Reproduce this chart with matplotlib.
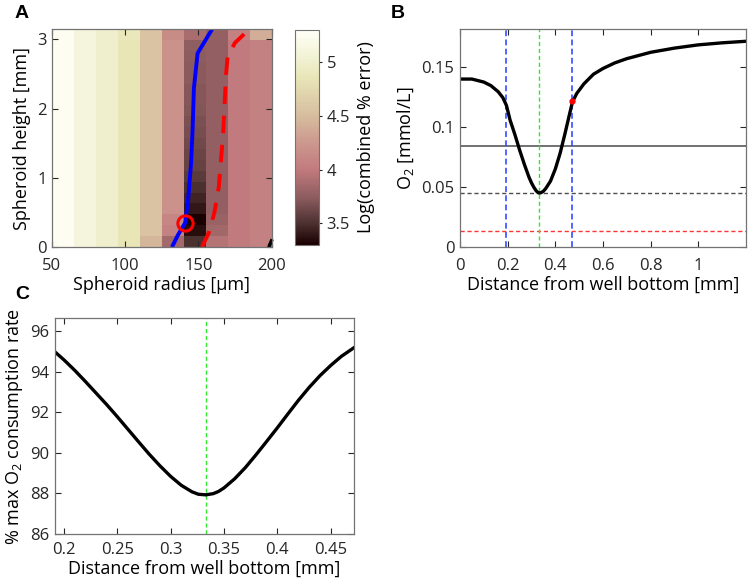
import numpy as np
import matplotlib
matplotlib.use("Agg")
import matplotlib.pyplot as plt
from matplotlib.colors import LinearSegmentedColormap

plt.rcParams['font.family'] = ['Open Sans', 'DejaVu Sans']
plt.rcParams['mathtext.default'] = 'regular'
plt.rcParams['font.size'] = 12

# ---------------- Panel A data ----------------
radius_edges = [50, 65, 80, 95, 110, 125, 140, 155, 170, 185, 200]
height_edges = list(np.round(np.linspace(0, 3.15, 21), 4))
# log(combined % error), rows bottom->top (20 rows), cols left->right (10 cols)
col_vals = [
    [5.25] * 20,
    [5.12] * 20,
    [5.00] * 20,
    [4.85] * 19 + [4.88],
    [4.45] + [4.55] * 19,
    [3.85, 4.05, 4.10] + [4.20] * 16 + [4.15],
    [3.50, 3.36, 3.30, 3.40, 3.45, 3.50, 3.55, 3.60, 3.62, 3.64,
     3.66, 3.68, 3.70, 3.72, 3.72, 3.73, 3.73, 3.74, 3.76, 3.88],
    [3.94, 3.84, 3.80] + [3.77] * 16 + [3.78],
    [4.00] * 19 + [4.05],
    [4.05] * 19 + [4.40],
]
blue_r = [132, 136, 141, 143, 145, 146, 147, 149.5, 159.5]
blue_h = [0, 0.17, 0.35, 0.68, 1.2, 1.65, 2.3, 2.8, 3.15]
red_r = [152.5, 157, 161, 164, 167, 168, 169, 170, 175, 182]
red_h = [0, 0.2, 0.5, 0.87, 1.65, 2.1, 2.5, 2.75, 2.95, 3.09]
opt_r, opt_h = [141], [0.345]
blk_r = [198.6, 200]
blk_h = [0.02, 0.09]

# ---------------- Panel B data ----------------
dist_b = [0.00, 0.05, 0.10, 0.13, 0.16, 0.18, 0.195, 0.21, 0.23, 0.25, 0.27, 0.29,
          0.30, 0.31, 0.32, 0.327, 0.333, 0.34, 0.35, 0.36, 0.38, 0.40, 0.42,
          0.44, 0.46, 0.472, 0.49, 0.52, 0.56, 0.60, 0.65, 0.70, 0.80, 0.90,
          1.00, 1.10, 1.20]
o2_b = [0.140, 0.1400, 0.1375, 0.1345, 0.1295, 0.1245, 0.118, 0.106, 0.094, 0.081,
        0.069, 0.058, 0.0535, 0.0498, 0.0468, 0.0455, 0.045, 0.0453, 0.0465, 0.0488,
        0.055, 0.065, 0.078, 0.094, 0.111, 0.121, 0.128, 0.136, 0.144, 0.1488,
        0.1535, 0.157, 0.1623, 0.1658, 0.1685, 0.1702, 0.1715]
hline_solid = 0.084
hline_dash = 0.045
hline_red = 0.013
vline_blue = [0.195, 0.472]
vline_green = 0.333
red_pt_x, red_pt_y = [0.472], [0.122]

# ---------------- Panel C data ----------------
dist_c = [0.1916, 0.20, 0.21, 0.22, 0.23, 0.24, 0.25, 0.26, 0.27, 0.28, 0.29, 0.30,
          0.31, 0.32, 0.326, 0.333, 0.34, 0.345, 0.35, 0.36, 0.37, 0.38, 0.39,
          0.40, 0.41, 0.42, 0.43, 0.44, 0.45, 0.46, 0.4719]
rate_c = [94.97, 94.58, 94.07, 93.52, 92.95, 92.38, 91.78, 91.16, 90.54, 89.93,
          89.36, 88.84, 88.40, 88.08, 87.96, 87.93, 87.99, 88.10, 88.27, 88.72,
          89.27, 89.90, 90.56, 91.23, 91.92, 92.60, 93.23, 93.80, 94.30, 94.75,
          95.18]

# ---------------- figure ----------------
fig = plt.figure(figsize=(7.5, 5.83), dpi=100)

def style(ax, xpad=5):
    ax.tick_params(direction='in', top=True, right=True, length=4, width=0.8,
                   colors=(0.15, 0.15, 0.15), labelsize=12, pad=4)
    ax.tick_params(axis='x', pad=xpad)
    for s in ax.spines.values():
        s.set_color((0.45, 0.45, 0.45))
        s.set_linewidth(0.9)

cmap = LinearSegmentedColormap.from_list('err', [
    (0.00, (0.10, 0.00, 0.00)),
    (0.10, (0.30, 0.19, 0.19)),
    (0.22, (0.55, 0.36, 0.37)),
    (0.35, (0.76, 0.48, 0.49)),
    (0.48, (0.80, 0.60, 0.56)),
    (0.60, (0.84, 0.74, 0.62)),
    (0.78, (0.91, 0.90, 0.72)),
    (0.88, (0.95, 0.95, 0.84)),
    (1.00, (1.00, 1.00, 0.97)),
])

axA = fig.add_axes([0.0693, 0.5763, 0.2927, 0.3739])
Z = np.array(col_vals).T
mesh = axA.pcolormesh(radius_edges, height_edges, Z, cmap=cmap, vmin=3.3, vmax=5.3,
                      shading='flat')
axA.plot(blue_r, blue_h, color=(0.0, 0.0, 1.0), lw=2.8, solid_capstyle='butt')
axA.plot(red_r, red_h, color=(1.0, 0.0, 0.0), lw=2.8, dashes=(4.5, 3))
axA.plot(opt_r, opt_h, 'o', ms=11, mfc='none', mec=(1, 0, 0), mew=2.2)
axA.plot(blk_r, blk_h, color='k', lw=2.5, clip_on=False)
axA.set_xlim(50, 200)
axA.set_ylim(0, 3.15)
axA.set_xticks([50, 100, 150, 200])
axA.set_yticks([0, 1, 2, 3])
axA.set_xlabel('Spheroid radius [μm]', fontsize=13, labelpad=1)
axA.set_ylabel('Spheroid height [mm]', fontsize=13, labelpad=4)
style(axA, xpad=8)

cax = fig.add_axes([0.3933, 0.5798, 0.032, 0.3688])
cb = fig.colorbar(mesh, cax=cax)
cb.set_ticks([3.5, 4, 4.5, 5])
cb.set_ticklabels(['3.5', '4', '4.5', '5'])
cax.tick_params(direction='out', length=2, width=0.8, labelsize=12,
                colors=(0.15, 0.15, 0.15))
cb.outline.set_edgecolor((0.45, 0.45, 0.45))
cb.set_label('Log(combined % error)', fontsize=13, labelpad=5)

axB = fig.add_axes([0.6133, 0.5763, 0.3813, 0.3739])
axB.axhline(hline_solid, color=(0.35, 0.35, 0.35), lw=1.2)
axB.axhline(hline_dash, color=(0.3, 0.3, 0.3), lw=1.0, dashes=(3, 2))
axB.axhline(hline_red, color=(1.0, 0.2, 0.2), lw=1.0, dashes=(3, 2))
for v in vline_blue:
    axB.axvline(v, color=(0.2, 0.3, 1.0), lw=1.2, dashes=(3.5, 2))
axB.axvline(vline_green, color=(0.2, 0.9, 0.2), lw=1.0, dashes=(3, 2))
axB.plot(dist_b, o2_b, color='k', lw=2.4)
axB.plot(red_pt_x, red_pt_y, 'o', color=(1, 0, 0), ms=3.5)
axB.set_xlim(0, 1.2)
axB.set_ylim(0, 0.1817)
axB.set_xticks([0, 0.2, 0.4, 0.6, 0.8, 1])
axB.set_xticklabels(['0', '0.2', '0.4', '0.6', '0.8', '1'])
axB.set_yticks([0, 0.05, 0.1, 0.15])
axB.set_yticklabels(['0', '0.05', '0.1', '0.15'])
axB.set_xlabel('Distance from well bottom [mm]', fontsize=13, labelpad=1)
axB.set_ylabel('O$_2$ [mmol/L]', fontsize=13, labelpad=4)
style(axB, xpad=8)

axC = fig.add_axes([0.0733, 0.0840, 0.3987, 0.3705])
axC.axvline(vline_green, color=(0.2, 0.9, 0.2), lw=1.0, dashes=(3, 2))
axC.plot(dist_c, rate_c, color='k', lw=2.4)
axC.set_xlim(0.1916, 0.4719)
axC.set_ylim(86, 96.64)
axC.set_xticks([0.2, 0.25, 0.3, 0.35, 0.4, 0.45])
axC.set_xticklabels(['0.2', '0.25', '0.3', '0.35', '0.4', '0.45'])
axC.set_yticks([86, 88, 90, 92, 94, 96])
axC.set_xlabel('Distance from well bottom [mm]', fontsize=13, labelpad=1)
axC.set_ylabel('% max O$_2$ consumption rate', fontsize=13, labelpad=4)
style(axC, xpad=6)

fig.text(15 / 750, 1 - 5 / 583, 'A', fontsize=14, fontweight='bold', va='top',
         family=['Liberation Sans', 'DejaVu Sans'])
fig.text(391 / 750, 1 - 5 / 583, 'B', fontsize=14, fontweight='bold', va='top',
         family=['Liberation Sans', 'DejaVu Sans'])
fig.text(15 / 750, 1 - 286 / 583, 'C', fontsize=14, fontweight='bold', va='top',
         family=['Liberation Sans', 'DejaVu Sans'])

fig.savefig('out.png', dpi=100)
